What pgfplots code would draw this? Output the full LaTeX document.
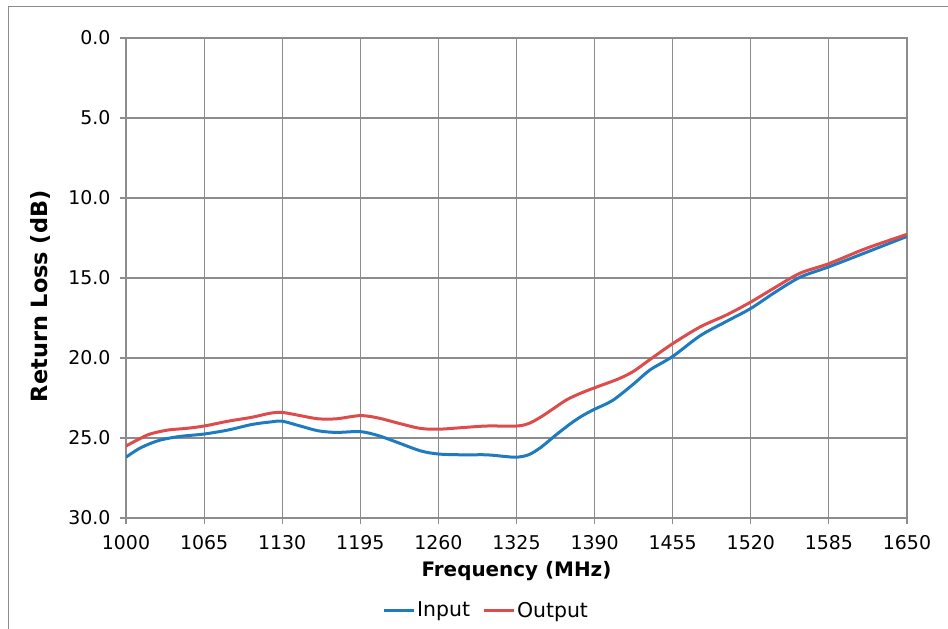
\documentclass[border=0pt]{standalone}
\usepackage{fontspec}
\setmainfont{DejaVu Sans}
\usepackage{pgfplots}
\pgfplotsset{compat=1.18}
\definecolor{InBlue}{HTML}{1F7BC0}
\definecolor{OutRed}{HTML}{DE4B4B}
\definecolor{GridGray}{HTML}{8C8C8C}

\begin{document}
\begin{tikzpicture}
    \useasboundingbox (0,0) rectangle (948bp,-629bp);
    % chart area frame (left and top only are visible)
    \draw[GridGray, line width=1bp] (8bp,-629bp) -- (8bp,-6bp) -- (948bp,-6bp);

    \begin{axis}[
        at={(126bp,-518bp)}, anchor=south west,
        scale only axis,
        width=781bp, height=480bp,
        xmin=1000, xmax=1650,
        ymin=0, ymax=30,
        y dir=reverse,
        xtick={1000,1065,...,1650},
        ytick={0,5,...,30},
        grid=major,
        grid style={draw=GridGray, line width=1.1bp},
        axis line style={draw=GridGray, line width=1.1bp},
        tick style={draw=GridGray, line width=1.1bp},
        tick align=outside,
        major tick length=6bp,
        xtick pos=bottom, ytick pos=left,
        tick label style={font=\fontsize{19}{20}\selectfont},
        /pgf/number format/assume math mode=true,
        x tick label style={/pgf/number format/set thousands separator={}, yshift=-8bp},
        y tick label style={/pgf/number format/.cd, fixed, fixed zerofill, precision=1, /tikz/.cd, xshift=-6bp},
        xlabel={Frequency (MHz)},
        ylabel={Return Loss (dB)},
        every axis x label/.style={at={(axis description cs:0.5,-0.110)}, anchor=center,
            font=\fontsize{20}{22}\selectfont\bfseries},
        every axis y label/.style={at={(axis description cs:-0.110,0.462)}, anchor=center, rotate=90,
            font=\fontsize{22.5}{24}\selectfont\bfseries},
        legend style={
            at={(axis description cs:0.461,-0.192)}, anchor=center,
            draw=none, fill=none,
            font=\fontsize{20.5}{22}\selectfont,
            legend columns=2,
            /tikz/every even column/.append style={column sep=10bp},
        },
        legend image code/.code={\draw[#1, line width=3bp] (0bp,0bp) -- (30bp,0bp);},
    ]
        \addplot[InBlue, line width=3bp, smooth] coordinates {
            (1000,26.2) (1010,25.7) (1020,25.35) (1030,25.1) (1045,24.9)
            (1065,24.75) (1085,24.5) (1105,24.15) (1120,24.0) (1130,23.95)
            (1145,24.25) (1160,24.55) (1175,24.65) (1195,24.6) (1210,24.85)
            (1225,25.25) (1245,25.8) (1260,26.0) (1280,26.05) (1300,26.05)
            (1315,26.15) (1325,26.2) (1335,26.05) (1345,25.6) (1358,24.8)
            (1370,24.1) (1380,23.6) (1390,23.2) (1405,22.65) (1422,21.65)
            (1436,20.75) (1455,19.9) (1478,18.6) (1500,17.7) (1520,16.9)
            (1540,15.9) (1561,14.95) (1585,14.3) (1616,13.4) (1650,12.4)
        };
        \addlegendentry{Input}
        \addplot[OutRed, line width=3bp, smooth] coordinates {
            (1000,25.5) (1010,25.1) (1020,24.75) (1035,24.5) (1050,24.4)
            (1065,24.25) (1085,23.95) (1105,23.7) (1120,23.45) (1130,23.4)
            (1145,23.6) (1160,23.8) (1175,23.8) (1195,23.6) (1210,23.75)
            (1228,24.1) (1245,24.4) (1260,24.45) (1280,24.35) (1300,24.25)
            (1325,24.25) (1335,24.1) (1345,23.7) (1355,23.2) (1367,22.6)
            (1380,22.15) (1394,21.75) (1410,21.3) (1422,20.85) (1436,20.1)
            (1455,19.1) (1478,18.05) (1500,17.3) (1520,16.5) (1540,15.6)
            (1561,14.7) (1585,14.1) (1616,13.15) (1650,12.27)
        };
        \addlegendentry{Output}
    \end{axis}
\end{tikzpicture}
\end{document}
